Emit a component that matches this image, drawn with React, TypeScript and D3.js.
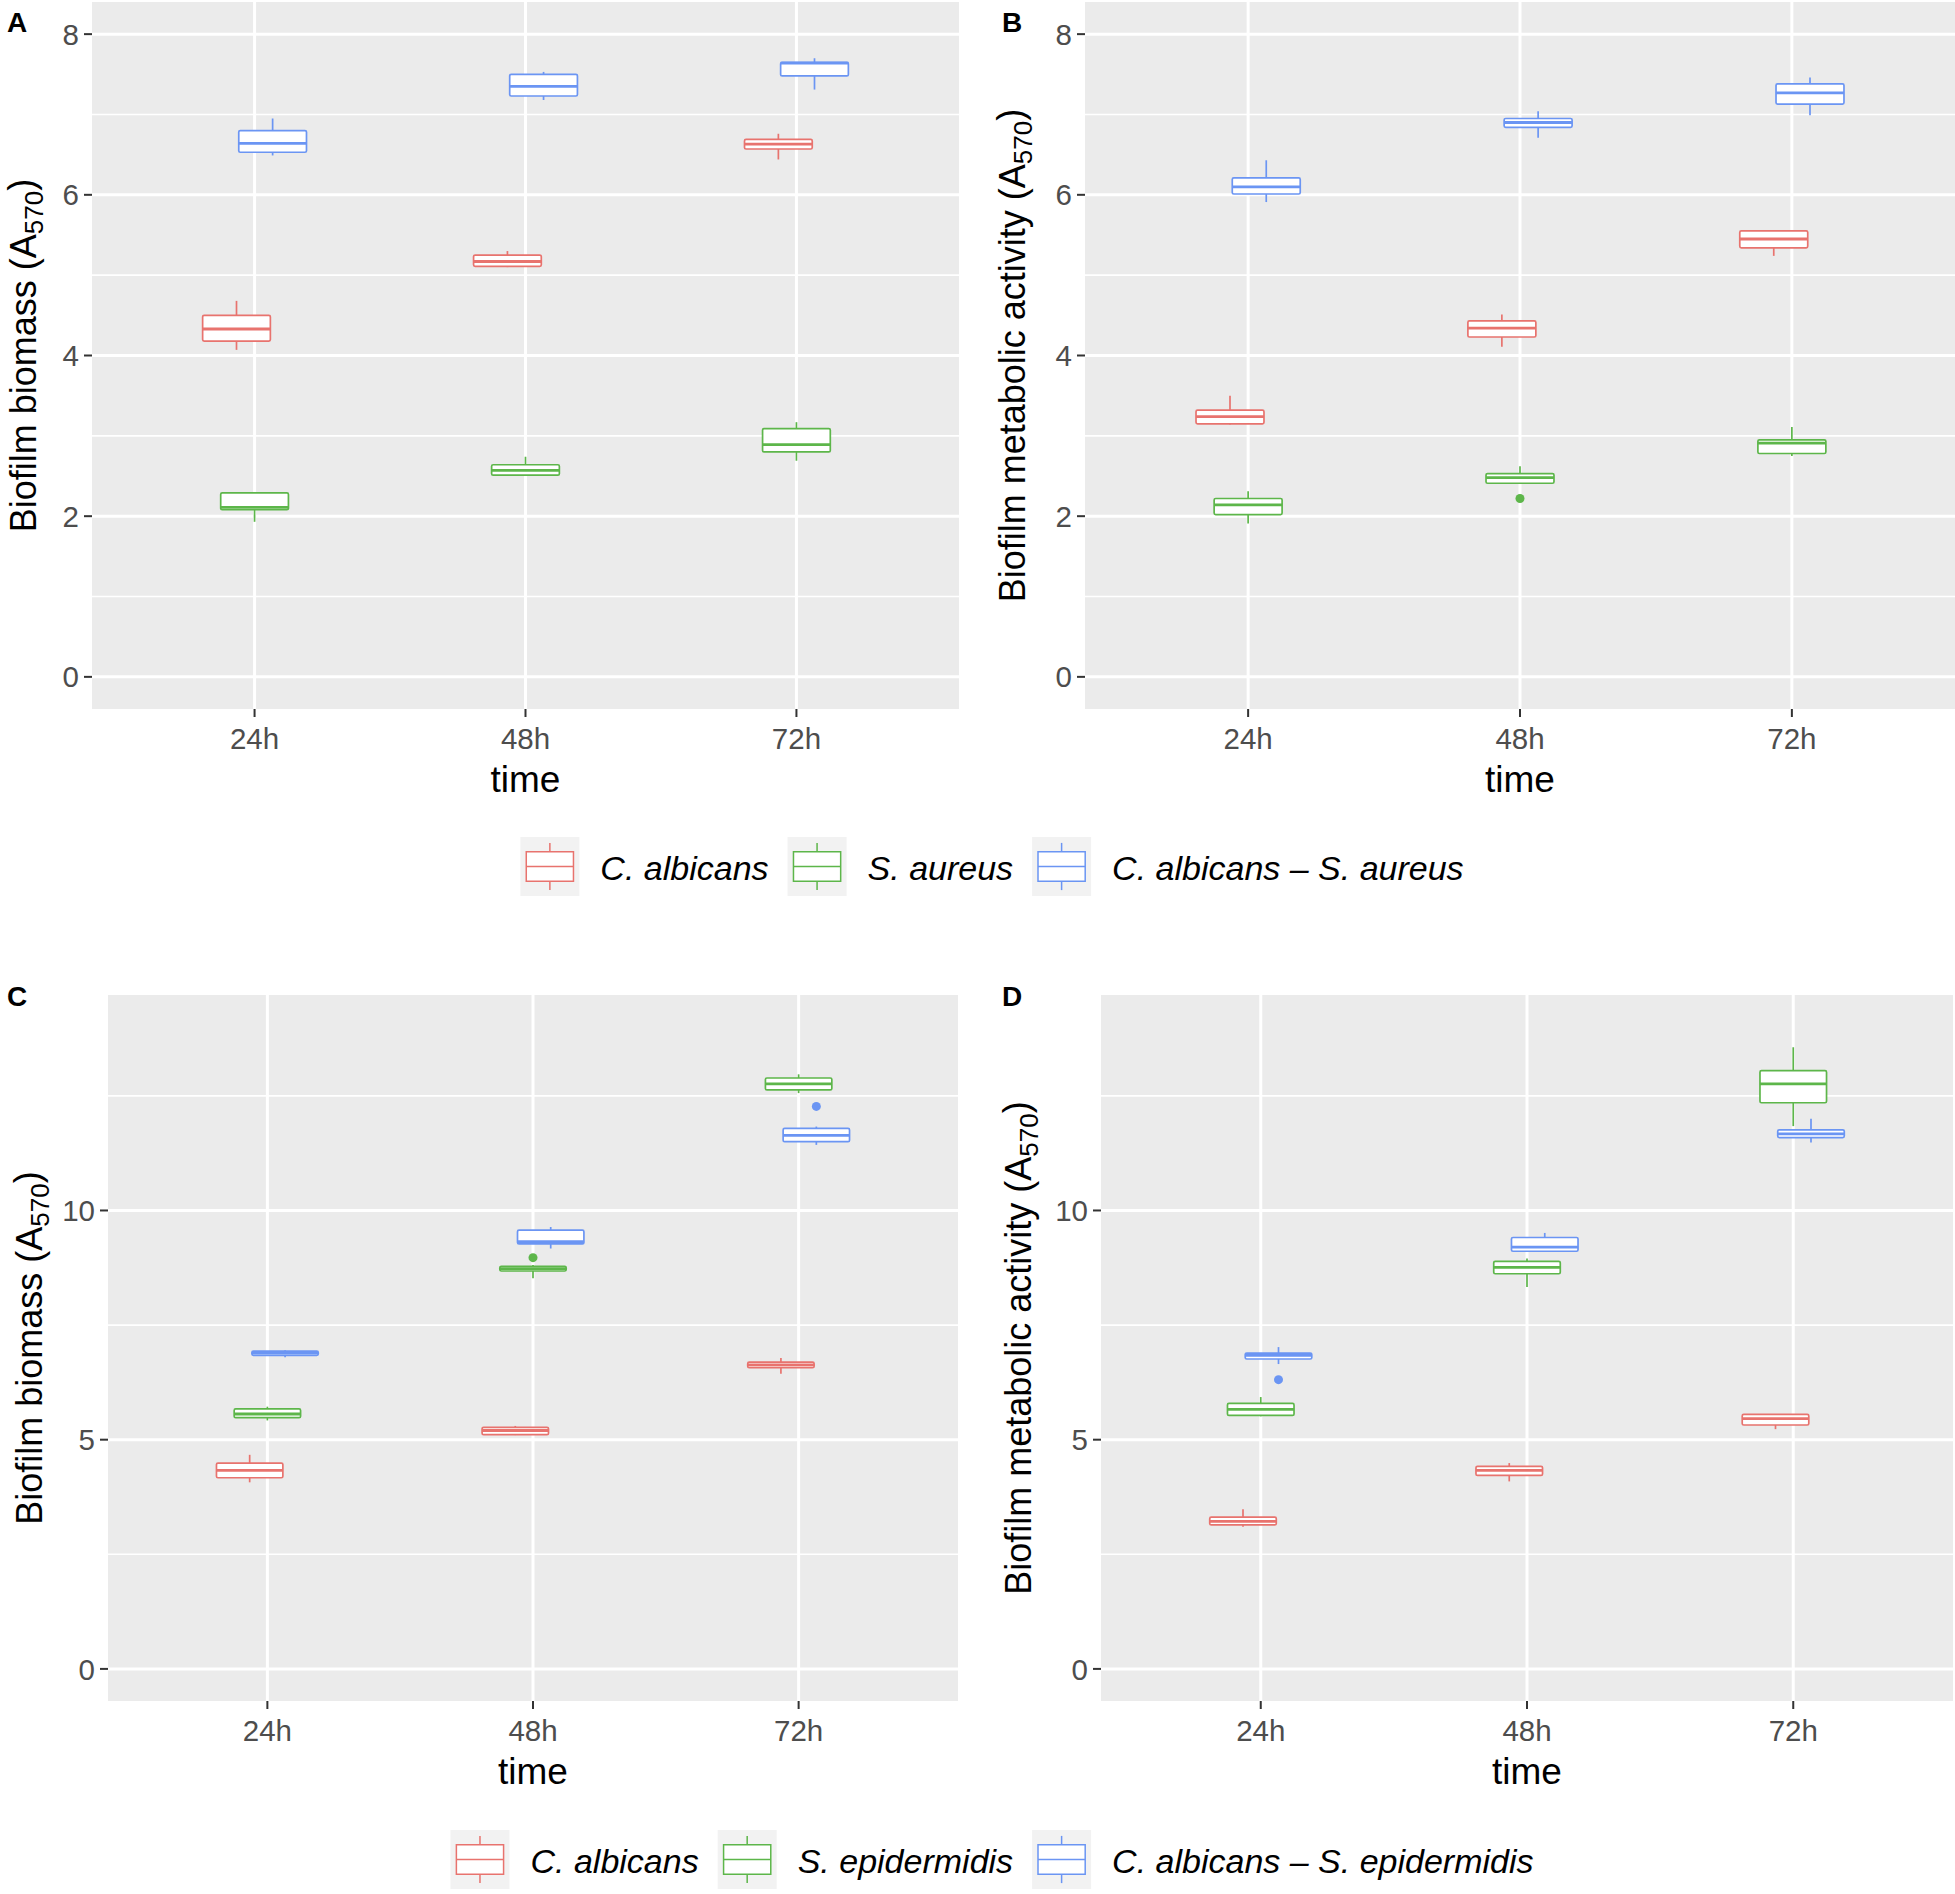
import { useEffect, useRef } from 'react';
import * as d3 from 'd3';

// time points on the x axis
const timePoints = ['24h', '48h', '72h'];

// legend / series names
const aureusSeries = ['C. albicans', 'S. aureus', 'C. albicans – S. aureus'];
const epidermidisSeries = ['C. albicans', 'S. epidermidis', 'C. albicans – S. epidermidis'];

// boxes: [lower whisker, q1, median, q3, upper whisker] for 24h, 48h, 72h
// panel A – biomass, S. aureus
const aAlbicans = [[4.07, 4.18, 4.33, 4.50, 4.68], [5.10, 5.11, 5.17, 5.25, 5.30], [6.44, 6.57, 6.63, 6.69, 6.76]];
const aAureus = [[1.93, 2.08, 2.11, 2.29, 2.30], [2.50, 2.51, 2.57, 2.64, 2.74], [2.69, 2.80, 2.89, 3.09, 3.17]];
const aMixed = [[6.49, 6.53, 6.64, 6.80, 6.95], [7.18, 7.23, 7.35, 7.50, 7.53], [7.31, 7.48, 7.64, 7.65, 7.70]];

// panel B – metabolic activity, S. aureus
const bAlbicans = [[3.14, 3.15, 3.24, 3.32, 3.50], [4.11, 4.23, 4.34, 4.43, 4.51], [5.24, 5.34, 5.45, 5.55, 5.55]];
const bAureus = [[1.91, 2.02, 2.14, 2.22, 2.31], [2.40, 2.41, 2.48, 2.53, 2.62], [2.75, 2.78, 2.91, 2.95, 3.11]];
const bMixed = [[5.91, 6.01, 6.10, 6.21, 6.43], [6.71, 6.84, 6.90, 6.95, 7.04], [6.99, 7.13, 7.27, 7.38, 7.46]];

// panel C – biomass, S. epidermidis
const cAlbicans = [[4.07, 4.17, 4.33, 4.49, 4.67], [5.10, 5.11, 5.20, 5.27, 5.30], [6.44, 6.57, 6.63, 6.69, 6.78]];
const cEpidermidis = [[5.42, 5.48, 5.56, 5.67, 5.72], [8.52, 8.68, 8.73, 8.78, 8.81], [12.56, 12.63, 12.76, 12.89, 12.97]];
const cMixed = [[6.80, 6.84, 6.89, 6.93, 6.95], [9.17, 9.27, 9.32, 9.57, 9.64], [11.43, 11.50, 11.64, 11.79, 11.83]];

// panel D – metabolic activity, S. epidermidis
const dAlbicans = [[3.10, 3.14, 3.22, 3.31, 3.48], [4.09, 4.22, 4.33, 4.42, 4.49], [5.23, 5.32, 5.46, 5.55, 5.55]];
const dEpidermidis = [[5.51, 5.53, 5.66, 5.79, 5.93], [8.33, 8.62, 8.76, 8.89, 8.95], [11.84, 12.35, 12.76, 13.05, 13.56]];
const dMixed = [[6.65, 6.76, 6.84, 6.89, 7.02], [9.10, 9.11, 9.20, 9.41, 9.51], [11.48, 11.59, 11.67, 11.76, 12.00]];

// outliers: [series index, time index, value]
const bOutliers = [[1, 1, 2.22]];
const cOutliers = [[1, 1, 8.97], [2, 2, 12.27]];
const dOutliers = [[2, 0, 6.31]];

// axis ticks
const ticksTop = [0, 2, 4, 6, 8];
const minorTop = [1, 3, 5, 7];
const ticksBottom = [0, 5, 10];
const minorBottom = [2.5, 7.5, 12.5];

const colors = ['#E8736E', '#5DB64A', '#6B95F3'];
const FONT = '"Liberation Sans", Arial, Helvetica, sans-serif';

const W = 1955;
const H = 1894;

type Panel = {
  label: string;
  left: number; right: number; top: number; bottom: number;
  domain: [number, number];
  ticks: number[]; minor: number[];
  series: number[][][];
  outliers: number[][];
  title: string;
  titleX: number;
};

const panels: Panel[] = [
  { label: 'A', left: 92, right: 959, top: 2, bottom: 709, domain: [-0.4, 8.4], ticks: ticksTop, minor: minorTop,
    series: [aAlbicans, aAureus, aMixed], outliers: [], title: 'Biofilm biomass', titleX: 36 },
  { label: 'B', left: 1085, right: 1955, top: 2, bottom: 709, domain: [-0.4, 8.4], ticks: ticksTop, minor: minorTop,
    series: [bAlbicans, bAureus, bMixed], outliers: bOutliers, title: 'Biofilm metabolic activity', titleX: 1025 },
  { label: 'C', left: 108, right: 958, top: 995, bottom: 1701, domain: [-0.7, 14.7], ticks: ticksBottom, minor: minorBottom,
    series: [cAlbicans, cEpidermidis, cMixed], outliers: cOutliers, title: 'Biofilm biomass', titleX: 42 },
  { label: 'D', left: 1101, right: 1953, top: 995, bottom: 1701, domain: [-0.7, 14.7], ticks: ticksBottom, minor: minorBottom,
    series: [dAlbicans, dEpidermidis, dMixed], outliers: dOutliers, title: 'Biofilm metabolic activity', titleX: 1031 },
];

function drawPanel(svg: d3.Selection<SVGSVGElement, unknown, null, undefined>, p: Panel) {
  const x = d3.scalePoint<string>().domain(timePoints).range([p.left, p.right]).padding(0.6);
  const y = d3.scaleLinear().domain(p.domain).range([p.bottom, p.top]);
  const step = x.step();
  const g = svg.append('g');

  g.append('rect')
    .attr('x', p.left).attr('y', p.top)
    .attr('width', p.right - p.left).attr('height', p.bottom - p.top)
    .attr('fill', '#EBEBEB');

  // grid
  g.selectAll('.minor').data(p.minor).join('line')
    .attr('x1', p.left).attr('x2', p.right)
    .attr('y1', d => y(d)).attr('y2', d => y(d))
    .attr('stroke', '#fff').attr('stroke-width', 1.6);
  g.selectAll('.major').data(p.ticks).join('line')
    .attr('x1', p.left).attr('x2', p.right)
    .attr('y1', d => y(d)).attr('y2', d => y(d))
    .attr('stroke', '#fff').attr('stroke-width', 3);
  g.selectAll('.vgrid').data(timePoints).join('line')
    .attr('x1', d => x(d)!).attr('x2', d => x(d)!)
    .attr('y1', p.top).attr('y2', p.bottom)
    .attr('stroke', '#fff').attr('stroke-width', 3);

  // y axis
  g.selectAll('.ytick').data(p.ticks).join('line')
    .attr('x1', p.left - 8).attr('x2', p.left)
    .attr('y1', d => y(d)).attr('y2', d => y(d))
    .attr('stroke', '#333').attr('stroke-width', 2);
  g.selectAll('.ylab').data(p.ticks).join('text')
    .attr('x', p.left - 13).attr('y', d => y(d))
    .attr('dy', '0.36em')
    .attr('text-anchor', 'end')
    .style('font-family', FONT).style('font-size', '29.5px').style('fill', '#4D4D4D')
    .text(d => String(d));

  // x axis
  g.selectAll('.xtick').data(timePoints).join('line')
    .attr('x1', d => x(d)!).attr('x2', d => x(d)!)
    .attr('y1', p.bottom).attr('y2', p.bottom + 8)
    .attr('stroke', '#333').attr('stroke-width', 2);
  g.selectAll('.xlab').data(timePoints).join('text')
    .attr('x', d => x(d)!).attr('y', p.bottom + 40)
    .attr('text-anchor', 'middle')
    .style('font-family', FONT).style('font-size', '29.5px').style('fill', '#4D4D4D')
    .text(d => d);

  g.append('text')
    .attr('x', (p.left + p.right) / 2).attr('y', p.bottom + 83)
    .attr('text-anchor', 'middle')
    .style('font-family', FONT).style('font-size', '37px').style('fill', '#000')
    .text('time');

  const yt = g.append('text')
    .attr('transform', `translate(${p.titleX},${(p.top + p.bottom) / 2}) rotate(-90)`)
    .attr('text-anchor', 'middle')
    .style('font-family', FONT).style('font-size', '36px').style('fill', '#000');
  yt.append('tspan').text(`${p.title} (A`);
  yt.append('tspan').attr('dy', '0.25em').style('font-size', '26px').text('570');
  yt.append('tspan').attr('dy', '-0.25em').text(')');

  g.append('text')
    .attr('x', p.label === 'A' || p.label === 'C' ? 7 : 1002)
    .attr('y', p.top + (p.label === 'A' || p.label === 'B' ? 30 : 11))
    .style('font-family', FONT).style('font-size', '28px').style('font-weight', 'bold')
    .text(p.label);

  // boxes
  const dodge = (step * 0.2) / 3;
  const bw = step * 0.25;
  p.series.forEach((ser, si) => {
    const col = colors[si];
    ser.forEach((b, ti) => {
      const cx = x(timePoints[ti])! + (si - 1) * dodge;
      const [lo, q1, med, q3, hi] = b;
      g.append('line').attr('x1', cx).attr('x2', cx).attr('y1', y(hi)).attr('y2', y(q3))
        .attr('stroke', col).attr('stroke-width', 1.7);
      g.append('line').attr('x1', cx).attr('x2', cx).attr('y1', y(q1)).attr('y2', y(lo))
        .attr('stroke', col).attr('stroke-width', 1.7);
      g.append('rect')
        .attr('x', cx - bw / 2).attr('y', y(q3))
        .attr('width', bw).attr('height', Math.max(0.5, y(q1) - y(q3)))
        .attr('rx', 1.5)
        .attr('fill', '#fff').attr('stroke', col).attr('stroke-width', 1.7);
      g.append('line').attr('x1', cx - bw / 2).attr('x2', cx + bw / 2).attr('y1', y(med)).attr('y2', y(med))
        .attr('stroke', col).attr('stroke-width', 2.8);
    });
  });

  p.outliers.forEach(([si, ti, v]) => {
    g.append('circle')
      .attr('cx', x(timePoints[ti])! + (si - 1) * dodge)
      .attr('cy', y(v)).attr('r', 4.5)
      .attr('fill', colors[si]);
  });
}

function drawLegend(svg: d3.Selection<SVGSVGElement, unknown, null, undefined>, names: string[], top: number, centerX: number) {
  const key = 59;
  const g = svg.append('g');
  let cursor = 0;
  names.forEach((name, i) => {
    const col = colors[i];
    const k = g.append('g').attr('transform', `translate(${cursor},0)`);
    k.append('rect').attr('width', key).attr('height', key).attr('fill', '#F2F2F2');
    k.append('line').attr('x1', key / 2).attr('x2', key / 2).attr('y1', key * 0.1).attr('y2', key * 0.9)
      .attr('stroke', col).attr('stroke-width', 1.5);
    k.append('rect').attr('x', key * 0.1).attr('y', key * 0.25).attr('width', key * 0.8).attr('height', key * 0.5)
      .attr('fill', '#fff').attr('stroke', col).attr('stroke-width', 1.5);
    k.append('line').attr('x1', key * 0.1).attr('x2', key * 0.9).attr('y1', key / 2).attr('y2', key / 2)
      .attr('stroke', col).attr('stroke-width', 1.5);
    cursor += key + 21;
    const t = g.append('text')
      .attr('x', cursor).attr('y', key / 2 + 13)
      .style('font-family', FONT).style('font-size', '34px').style('font-style', 'italic').style('fill', '#000')
      .text(name);
    const len = (t.node() as SVGTextElement).getComputedTextLength();
    cursor += len + (i < names.length - 1 ? 19 : 0);
  });
  g.attr('transform', `translate(${centerX - cursor / 2},${top})`);
}

export default function App() {
  const ref = useRef<SVGSVGElement>(null);

  useEffect(() => {
    if (!ref.current) return;
    const svg = d3.select(ref.current);
    svg.selectAll('*').remove();

    svg.append('rect').attr('width', W).attr('height', H).attr('fill', '#fff');
    panels.forEach(p => drawPanel(svg, p));
    drawLegend(svg, aureusSeries, 837, 992);
    drawLegend(svg, epidermidisSeries, 1830, 992);
  }, []);

  return (
    <svg
      ref={ref}
      width={W}
      height={H}
      viewBox={`0 0 ${W} ${H}`}
      style={{ position: 'absolute', left: 0, top: 0, display: 'block' }}
    />
  );
}
